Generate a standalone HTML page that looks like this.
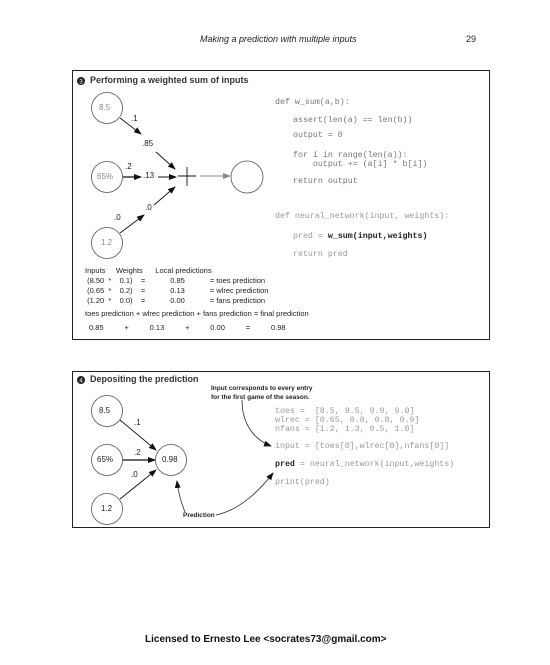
<!DOCTYPE html>
<html><head><style>
body{margin:0;background:#fff;width:550px;height:665px;overflow:hidden;position:relative;font-family:"Liberation Sans",sans-serif}
.t{position:absolute;white-space:pre;line-height:1}
.m{font-family:"Liberation Mono",monospace;font-size:8.3px;color:#777}
.s{font-size:8px;color:#222}
</style></head><body>
<div class="t" style="left:200px;top:35px;font-size:9px;font-style:italic;color:#222">Making a prediction with multiple inputs</div>
<div class="t" style="left:466px;top:35px;font-size:9px;color:#222">29</div>
<svg width="550" height="665" style="position:absolute;left:0;top:0">
<defs><marker id="a" markerWidth="8" markerHeight="6" refX="7" refY="3" orient="auto" markerUnits="userSpaceOnUse"><path d="M0,0L8,3L0,6z" fill="#111"/></marker>
<marker id="g" markerWidth="8" markerHeight="6" refX="7" refY="3" orient="auto" markerUnits="userSpaceOnUse"><path d="M0,0L8,3L0,6z" fill="#888"/></marker></defs>
<rect x="72.5" y="70.5" width="417" height="269" fill="none" stroke="#222"/>
<rect x="72.5" y="371.5" width="417" height="156" fill="none" stroke="#222"/>
<g fill="none" stroke="#555" stroke-width="0.8">
<circle cx="107" cy="108" r="15.5"/><circle cx="107" cy="177" r="15.5"/><circle cx="107" cy="243" r="15.5"/><circle cx="247" cy="177" r="16"/>
<circle cx="107" cy="411" r="15.5"/><circle cx="107" cy="460" r="15.5"/><circle cx="107" cy="509" r="15.5"/><circle cx="171" cy="460" r="15.5"/>
</g>
<g stroke="#111" stroke-width="0.9" fill="none">
<line x1="120" y1="118" x2="141" y2="134" marker-end="url(#a)"/>
<line x1="156" y1="152" x2="175" y2="169" marker-end="url(#a)"/>
<line x1="123" y1="177" x2="141" y2="177" marker-end="url(#a)" stroke-width="1.3"/>
<line x1="158" y1="177" x2="176" y2="177" marker-end="url(#a)"/>
<line x1="120" y1="233" x2="144" y2="215" marker-end="url(#a)"/>
<line x1="154" y1="205" x2="175" y2="187" marker-end="url(#a)"/>
<line x1="178" y1="176" x2="196" y2="176"/><line x1="187" y1="167" x2="187" y2="186"/>
<line x1="200" y1="176" x2="230" y2="176" stroke="#888" marker-end="url(#g)"/>
<line x1="120" y1="420" x2="156" y2="450" marker-end="url(#a)"/>
<line x1="123" y1="460" x2="155" y2="460" marker-end="url(#a)" stroke-width="1.3"/>
<line x1="120" y1="499" x2="156" y2="470" marker-end="url(#a)"/>
<path d="M242,400 C242,425 255,440 271,446" marker-end="url(#a)" stroke-width="0.7"/>
<path d="M185,512 C180,500 178,490 177,481" marker-end="url(#a)" stroke-width="0.7"/>
<path d="M216,515 C240,510 260,490 273,473" marker-end="url(#a)" stroke-width="0.7"/>
</g>
<circle cx="81" cy="81" r="4" fill="#222"/><text x="81" y="83.5" font-size="6" fill="#fff" text-anchor="middle" font-family="Liberation Sans">3</text>
<circle cx="81" cy="380" r="4" fill="#222"/><text x="81" y="382.5" font-size="6" fill="#fff" text-anchor="middle" font-family="Liberation Sans">4</text>
</svg>
<div class="t" style="left:90px;top:76px;font-size:9px;font-weight:bold;color:#333">Performing a weighted sum of inputs</div>
<div class="t" style="left:90px;top:375px;font-size:9px;font-weight:bold;color:#333">Depositing the prediction</div>
<div class="t s" style="left:99px;top:104px;color:#888">8.5</div>
<div class="t s" style="left:97px;top:173px;color:#888">65%</div>
<div class="t s" style="left:101px;top:239px;color:#888">1.2</div>
<div class="t s" style="left:131px;top:115px">.1</div>
<div class="t s" style="left:142px;top:140px">.85</div>
<div class="t s" style="left:125px;top:163px">.2</div>
<div class="t s" style="left:143px;top:172px">.13</div>
<div class="t s" style="left:145px;top:204px">.0</div>
<div class="t s" style="left:114px;top:214px">.0</div>
<div class="t m" style="left:275px;top:98px;line-height:9px">def w_sum(a,b):</div>
<div class="t m" style="left:293px;top:117px">assert(len(a) == len(b))</div>
<div class="t m" style="left:293px;top:132px">output = 0</div>
<div class="t m" style="left:293px;top:151px;line-height:9px">for i in range(len(a)):
    output += (a[i] * b[i])</div>
<div class="t m" style="left:293px;top:178px">return output</div>
<div class="t m" style="left:275px;top:213px;color:#999">def neural_network(input, weights):</div>
<div class="t m" style="left:293px;top:233px;color:#999">pred = <b style="color:#222">w_sum(input,weights)</b></div>
<div class="t m" style="left:293px;top:251px;color:#999">return pred</div>
<div class="t" style="left:85px;top:266px;font-size:7.5px;color:#222;line-height:10px">Inputs     Weights      Local predictions
 (8.50  *    0.1)    =            0.85            = toes prediction
 (0.65  *    0.2)    =            0.13            = wlrec prediction
 (1.20  *    0.0)    =            0.00            = fans prediction</div>
<div class="t" style="left:85px;top:310px;font-size:7.5px;color:#222">toes prediction + wlrec prediction + fans prediction = final prediction</div>
<div class="t" style="left:89px;top:324px;font-size:7.5px;color:#222">0.85          +          0.13          +          0.00          =          0.98</div>
<div class="t s" style="left:99px;top:407px">8.5</div>
<div class="t s" style="left:97px;top:456px">65%</div>
<div class="t s" style="left:101px;top:505px">1.2</div>
<div class="t s" style="left:162px;top:456px">0.98</div>
<div class="t s" style="left:134px;top:419px">.1</div>
<div class="t s" style="left:134px;top:449px">.2</div>
<div class="t s" style="left:131px;top:471px">.0</div>
<div class="t" style="left:211px;top:384px;font-size:6.5px;font-weight:bold;color:#222;line-height:9px">Input corresponds to every entry
for the first game of the season.</div>
<div class="t" style="left:183px;top:513px;font-size:6.5px;font-weight:bold;color:#222">Prediction</div>
<div class="t m" style="left:275px;top:407px;color:#999;line-height:9px">toes =  [8.5, 9.5, 9.9, 9.0]
wlrec = [0.65, 0.8, 0.8, 0.9]
nfans = [1.2, 1.3, 0.5, 1.0]</div>
<div class="t m" style="left:275px;top:443px;color:#999">input = [toes[0],wlrec[0],nfans[0]]</div>
<div class="t m" style="left:275px;top:461px;color:#999"><b style="color:#222">pred</b> = neural_network(input,weights)</div>
<div class="t m" style="left:275px;top:479px;color:#999">print(pred)</div>
<div class="t" style="left:145px;top:635px;font-size:10px;font-weight:bold;color:#111">Licensed to Ernesto Lee &lt;socrates73@gmail.com&gt;</div>
</body></html>
